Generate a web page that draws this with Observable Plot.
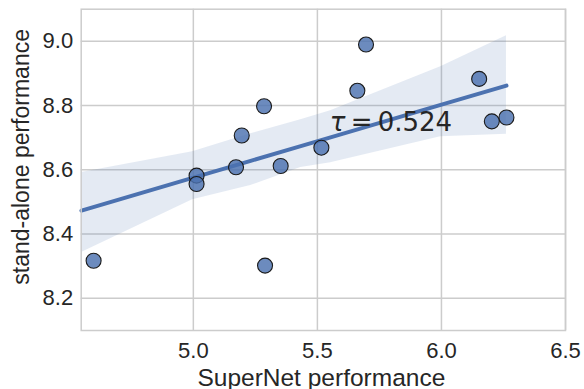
<!DOCTYPE html>
<html>
<head>
<meta charset="utf-8">
<script src="https://cdn.jsdelivr.net/npm/d3@7"></script>
<script src="https://cdn.jsdelivr.net/npm/@observablehq/plot@0.6"></script>
<style>
  html, body { margin: 0; padding: 0; background: #ffffff; }
  #chart { width: 584px; height: 389px; }
</style>
</head>
<body>
<div id="chart"></div>
<script>
// Scatter points: SuperNet performance vs stand-alone performance
const supernet   = [4.598, 5.013, 5.013, 5.172, 5.195, 5.285, 5.289, 5.352, 5.516, 5.661, 5.696, 6.152, 6.203, 6.262];
const standalone = [8.317, 8.582, 8.556, 8.608, 8.707, 8.798, 8.302, 8.612, 8.669, 8.846, 8.990, 8.883, 8.751, 8.763];

// Regression line and its confidence band
const fitX    = [4.549, 4.997, 5.231, 5.433, 5.553, 5.997, 6.262];
const fitY    = [8.473, 8.575, 8.628, 8.674, 8.701, 8.802, 8.862];
const fitLow  = [8.343, 8.507, 8.551, 8.607, 8.622, 8.703, 8.711];
const fitHigh = [8.592, 8.656, 8.712, 8.756, 8.784, 8.921, 9.017];

// Ticks and labels
const xTicks = [5.0, 5.5, 6.0, 6.5];
const yTicks = [8.2, 8.4, 8.6, 8.8, 9.0];
const xLabel = "SuperNet performance";
const yLabel = "stand-alone performance";
const annSymbol = "τ";
const annRest = "\u2009=\u20090.524";
const annX = 5.55;
const annY = 8.72;

const points = supernet.map((x, i) => ({x, y: standalone[i]}));
const fit = fitX.map((x, i) => ({x, y: fitY[i], lo: fitLow[i], hi: fitHigh[i]}));

const blue = "#4c72b0";
const gridColor = "#cccccc";
const textColor = "#262626";

const chart = Plot.plot({
  width: 584,
  height: 389,
  marginLeft: 80.7,
  marginRight: 19,
  marginTop: 8.7,
  marginBottom: 59,
  x: {domain: [4.548, 6.5]},
  y: {domain: [8.1, 9.1]},
  style: {fontFamily: "'Liberation Sans', Arial, sans-serif", background: "#ffffff", color: textColor},
  marks: [
    Plot.gridX(xTicks, {stroke: gridColor, strokeOpacity: 1, strokeWidth: 1.5}),
    Plot.gridY(yTicks, {stroke: gridColor, strokeOpacity: 1, strokeWidth: 1.5}),
    Plot.areaY(fit, {x: "x", y1: "lo", y2: "hi", fill: blue, fillOpacity: 0.15}),
    Plot.line(fit, {x: "x", y: "y", stroke: blue, strokeWidth: 4}),
    Plot.dot(points, {x: "x", y: "y", r: 7.5, fill: blue, fillOpacity: 0.82, stroke: "#1a1a1a", strokeWidth: 1.1}),
    Plot.text([annSymbol + annRest], {x: () => annX, y: () => annY, text: d => d, textAnchor: "start", lineAnchor: "bottom", fontSize: 26, fontFamily: "'DejaVu Sans', sans-serif", fill: textColor}),
    Plot.frame({stroke: gridColor, strokeWidth: 1.5}),
    Plot.axisX(xTicks, {tickSize: 0, tickPadding: 12, fontSize: 22, tickFormat: d => d.toFixed(1), label: null, fill: textColor}),
    Plot.axisY(yTicks, {tickSize: 0, tickPadding: 8, fontSize: 22, tickFormat: d => d.toFixed(1), label: null, fill: textColor}),
    Plot.text([xLabel], {frameAnchor: "bottom", text: d => d, dy: 55, dx: -2, lineAnchor: "bottom", fontSize: 24.5, fill: textColor}),
    Plot.text([yLabel], {frameAnchor: "left", text: d => d, textAnchor: "middle", dx: -52, dy: -13, rotate: -90, lineAnchor: "bottom", fontSize: 23, fill: textColor})
  ]
});

// Italicise the tau symbol, as in the mathtext annotation
d3.select(chart).selectAll("text")
  .filter(function() { return this.textContent === annSymbol + annRest; })
  .each(function() {
    const t = d3.select(this);
    t.text(null);
    t.append("tspan").attr("font-style", "italic").text(annSymbol);
    t.append("tspan").text(annRest);
  });

document.getElementById("chart").appendChild(chart);
</script>
</body>
</html>
